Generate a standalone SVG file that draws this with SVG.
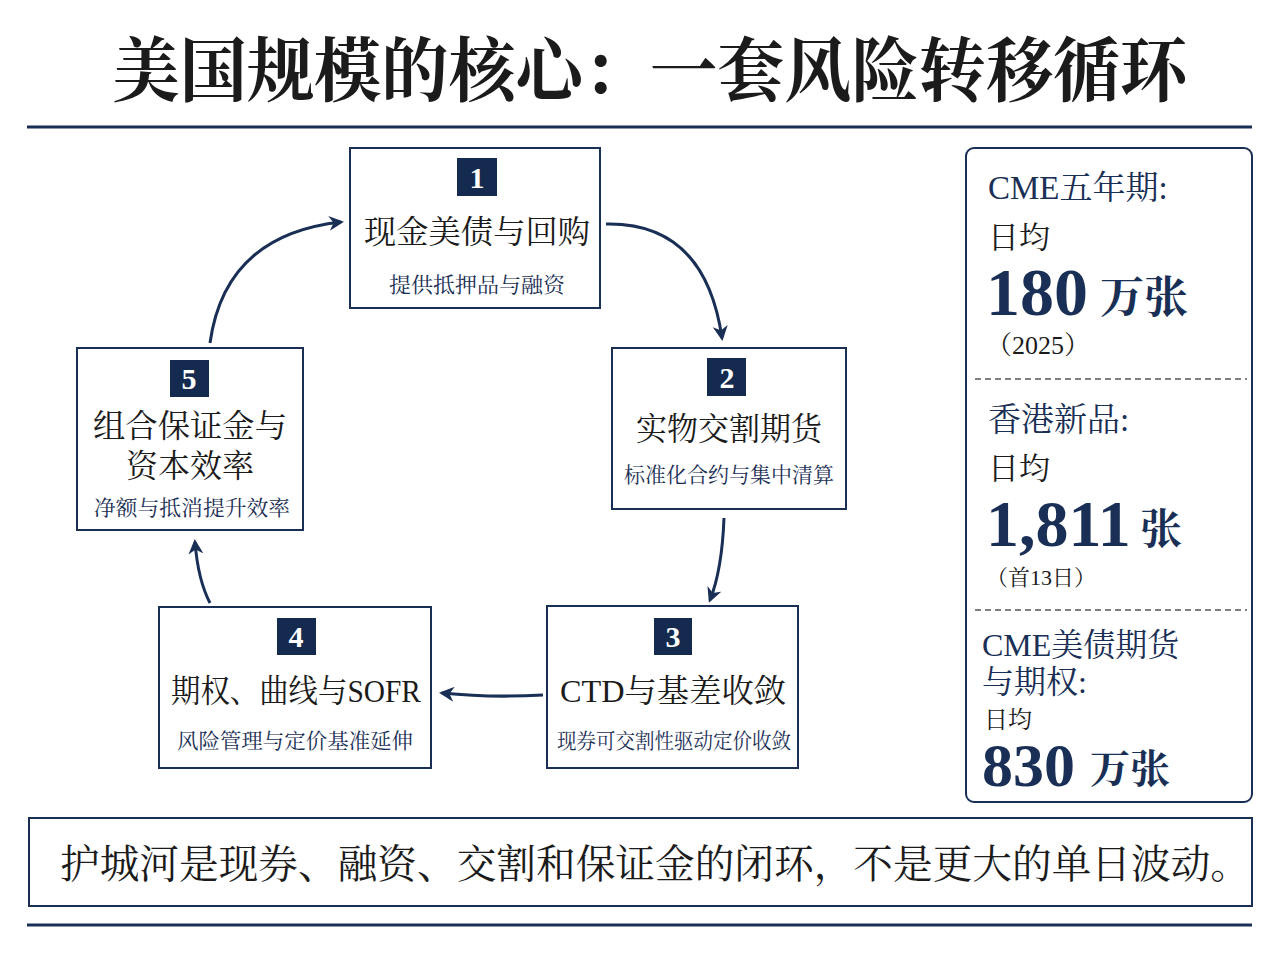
<svg xmlns="http://www.w3.org/2000/svg" width="1280" height="960" viewBox="0 0 1280 960">
<style>
text{font-family:"Liberation Serif","Noto Serif CJK SC","Noto Sans CJK SC",serif;fill:#1b1b1b}
.box{fill:#fff;stroke:#1a2f55;stroke-width:2}
.badge{fill:#142a4e}
.bn{fill:#fff;font-size:30px;text-anchor:middle;font-weight:bold}
.t{font-size:32px;text-anchor:middle}
.s{font-size:21px;text-anchor:middle;fill:#1a2f55}
.n{fill:#1a2f55}
.arr{fill:none;stroke:#1a2f55;stroke-width:3;marker-end:url(#ah)}
</style>
<defs><marker id="ah" viewBox="0 0 10 10" refX="8" refY="5" markerWidth="5" markerHeight="5" orient="auto"><path d="M0,0L10,5L0,10L3,5z" fill="#1a2f55"/></marker></defs>
<rect width="1280" height="960" fill="#fff"/>
<text x="650" y="96" font-size="70" font-weight="bold" text-anchor="middle" textLength="1075" lengthAdjust="spacingAndGlyphs">美国规模的核心：一套风险转移循环</text>
<line x1="27" y1="127" x2="1252" y2="127" stroke="#1a2f55" stroke-width="3"/>
<g id="connectors">
<path class="arr" d="M606,224 Q705,222 722,338"/>
<path class="arr" d="M724,518 Q722,570 710,600"/>
<path class="arr" d="M543,695 Q490,698 442,693"/>
<path class="arr" d="M210,603 Q198,580 195,542"/>
<path class="arr" d="M210,343 Q225,235 341,222"/>
</g>
<g id="n1"><rect class="box" x="350" y="148" width="250" height="160"/><rect class="badge" x="457" y="158" width="40" height="38"/><text class="bn" x="477" y="188">1</text><text class="t" x="477" y="243" textLength="226" lengthAdjust="spacingAndGlyphs">现金美债与回购</text><text class="s" x="477" y="292" textLength="176" lengthAdjust="spacingAndGlyphs">提供抵押品与融资</text></g>
<g id="n2"><rect class="box" x="612" y="348" width="234" height="161"/><rect class="badge" x="707" y="358" width="39" height="38"/><text class="bn" x="727" y="388">2</text><text class="t" x="729" y="440" textLength="186" lengthAdjust="spacingAndGlyphs">实物交割期货</text><text class="s" x="729" y="482" textLength="210" lengthAdjust="spacingAndGlyphs">标准化合约与集中清算</text></g>
<g id="n3"><rect class="box" x="547" y="606" width="251" height="162"/><rect class="badge" x="654" y="618" width="38" height="37"/><text class="bn" x="673" y="647">3</text><text class="t" x="673" y="702" textLength="226" lengthAdjust="spacingAndGlyphs">CTD与基差收敛</text><text class="s" x="674" y="748" font-size="20" textLength="234" lengthAdjust="spacingAndGlyphs">现券可交割性驱动定价收敛</text></g>
<g id="n4"><rect class="box" x="159" y="607" width="272" height="161"/><rect class="badge" x="277" y="618" width="39" height="37"/><text class="bn" x="296" y="647">4</text><text class="t" x="296" y="702" textLength="250" lengthAdjust="spacingAndGlyphs">期权、曲线与SOFR</text><text class="s" x="295" y="748" font-size="20" textLength="236" lengthAdjust="spacingAndGlyphs">风险管理与定价基准延伸</text></g>
<g id="n5"><rect class="box" x="77" y="348" width="226" height="182"/><rect class="badge" x="170" y="360" width="39" height="37"/><text class="bn" x="189" y="389">5</text><text class="t" x="190" y="437" textLength="194" lengthAdjust="spacingAndGlyphs">组合保证金与</text><text class="t" x="190" y="477">资本效率</text><text class="s" x="192" y="515" font-size="20" textLength="196" lengthAdjust="spacingAndGlyphs">净额与抵消提升效率</text></g>
<g id="stats">
<rect x="966" y="148" width="286" height="654" rx="8" fill="#fff" stroke="#1a2f55" stroke-width="2"/>
<line x1="975" y1="379" x2="1247" y2="379" stroke="#555" stroke-width="1.5" stroke-dasharray="6,4"/>
<line x1="975" y1="610" x2="1247" y2="610" stroke="#555" stroke-width="1.5" stroke-dasharray="6,4"/>
<text x="988" y="199" font-size="33" class="n">CME五年期:</text>
<text x="988" y="248" font-size="31">日均</text>
<text x="986" y="315" font-size="68" font-weight="bold" class="n">180</text><text x="1100" y="313" font-size="44" font-weight="bold" class="n">万张</text>
<text x="986" y="354" font-size="26">（2025）</text>
<text x="988" y="431" font-size="33" class="n">香港新品:</text>
<text x="988" y="479" font-size="31">日均</text>
<text x="986" y="546" font-size="66" font-weight="bold" class="n">1,811</text><text x="1140" y="544" font-size="42" font-weight="bold" class="n">张</text>
<text x="986" y="585" font-size="22">（首13日）</text>
<text x="982" y="656" font-size="32" class="n">CME美债期货</text>
<text x="982" y="693" font-size="32" class="n">与期权:</text>
<text x="984" y="728" font-size="24">日均</text>
<text x="982" y="786" font-size="62" font-weight="bold" class="n">830</text><text x="1090" y="783" font-size="40" font-weight="bold" class="n">万张</text>
</g>
<g id="footer">
<rect x="29" y="818" width="1223" height="88" fill="#fff" stroke="#1a2f55" stroke-width="2"/>
<text x="60" y="878" font-size="40" textLength="1190" lengthAdjust="spacingAndGlyphs">护城河是现券、融资、交割和保证金的闭环，不是更大的单日波动。</text>
</g>
<line x1="27" y1="925" x2="1252" y2="925" stroke="#1a2f55" stroke-width="3"/>
</svg>
